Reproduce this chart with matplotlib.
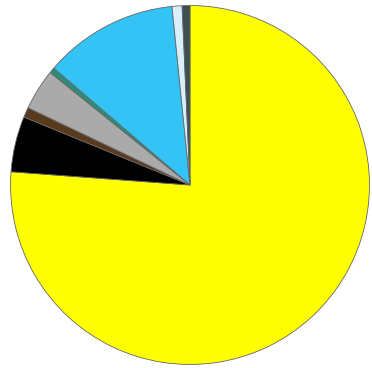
import matplotlib
matplotlib.use("Agg")
import matplotlib.pyplot as plt

labels = ["Yellow", "Black", "Brown", "Gray", "Teal", "Sky blue", "Light blue", "Slate"]
values = [76.1, 5.0, 0.9, 3.7, 0.5, 12.1, 0.9, 0.7]
colors = ["#FFFF00", "#000000", "#5a3a1e", "#aaaaaa", "#2e8b7a", "#33c3f5", "#d8f0fa", "#3d4f4f"]

fig = plt.figure(figsize=(3.72, 3.68), dpi=100)
ax = fig.add_axes([10/372, 3/368, 360/372, 360/368])
ax.pie(values, colors=colors, startangle=90, counterclock=False,
       wedgeprops=dict(edgecolor="#666666", linewidth=0.6))
ax.set_xlim(-1.003, 1.003)
ax.set_ylim(-1.003, 1.003)
ax.set_aspect("equal")
ax.axis("off")
fig.savefig("out.png", dpi=100)
